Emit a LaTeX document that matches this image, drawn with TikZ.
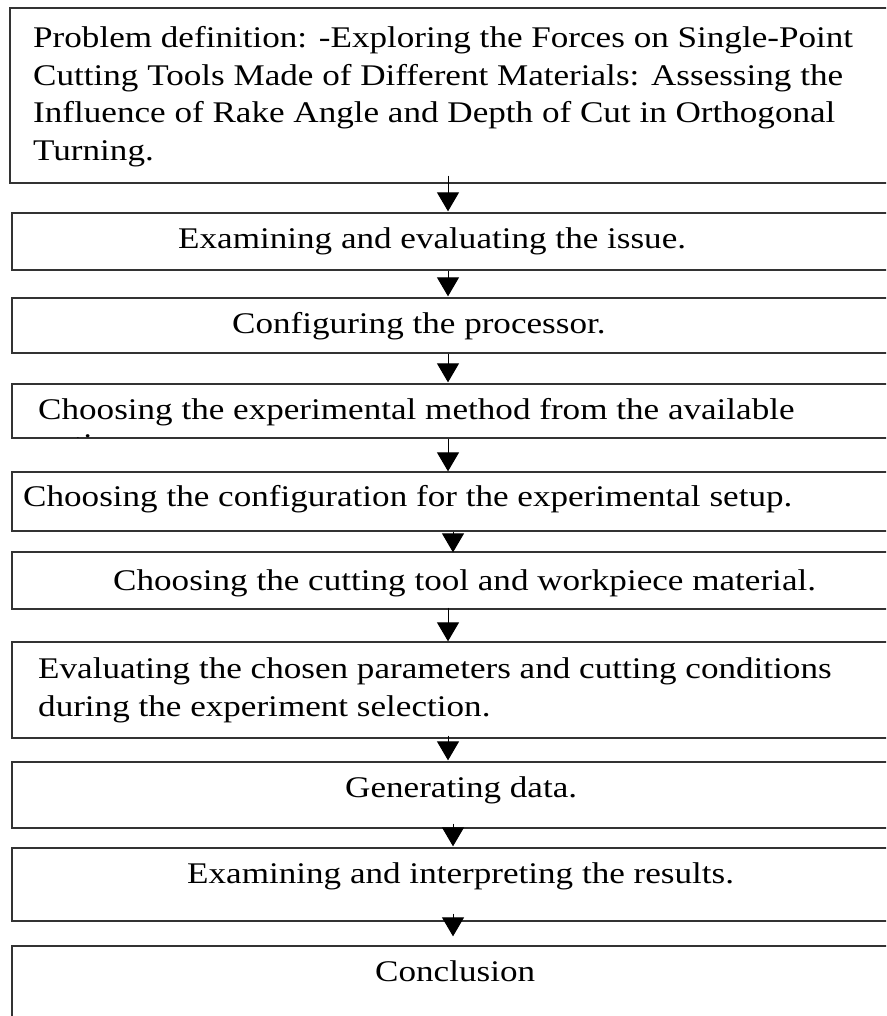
\documentclass[tikz,border=0pt]{standalone}
\usepackage{fontspec}
\setmainfont{Liberation Serif}[FakeStretch=1.17]
\usetikzlibrary{arrows.meta,calc}

\tikzset{
  box/.style={draw=black!80, line width=1.3pt, minimum width=884pt, inner sep=0pt},
  txt/.style={inner sep=0pt, font=\fontsize{30}{37.5}\selectfont, align=left},
  flow/.style={draw=black, line width=1pt, -{Triangle[width=22pt,length=19pt]}}
}

\begin{document}
\begin{tikzpicture}[x=1pt, y=-1pt]
  \useasboundingbox (0,0) rectangle (886,1016);
  \clip (0,0) rectangle (886,1016);
  \fill[white] (0,0) rectangle (886,1016);

  % process boxes (they run past the right edge)
  \node[box, minimum width=886pt, minimum height=175pt] (b1) at (453,95.5) {};
  \node[box, minimum height=57pt] (b2) at (454,241.5) {};
  \node[box, minimum height=55pt] (b3) at (454,325.5) {};
  \node[box, minimum height=54pt] (b4) at (454,411) {};
  \node[box, minimum height=59pt] (b5) at (454,501.5) {};
  \node[box, minimum height=57pt] (b6) at (454,580.5) {};
  \node[box, minimum height=96pt] (b7) at (454,690) {};
  \node[box, minimum height=66pt] (b8) at (454,795) {};
  \node[box, minimum height=73pt] (b9) at (454,884.5) {};
  \node[box, minimum height=94pt] (b10) at (454,993) {};

  % box texts
  \node[txt, anchor=north west] (t1) at (33,26.5)
    {Problem definition: -Exploring the Forces on Single-Point\\
     Cutting Tools Made of Different Materials: Assessing the\\
     Influence of Rake Angle and Depth of Cut in Orthogonal\\
     Turning.};
  \node[txt, anchor=base west] (t2) at (178,248) {Examining and evaluating the issue.};
  \node[txt, anchor=base west] (t3) at (232,333) {Configuring the processor.};
  \begin{scope}
    \clip (12,384.7) rectangle (896,437.3);
    \node[txt, anchor=north west] (t4) at (38,398.5)
      {Choosing the experimental method from the available\\[-3pt]
       options.};
  \end{scope}
  \node[txt, anchor=base west] (t5) at (23,506) {Choosing the configuration for the experimental setup.};
  \node[txt, anchor=base west] (t6) at (113,590) {Choosing the cutting tool and workpiece material.};
  \node[txt, anchor=north west] (t7) at (38,657.5)
    {Evaluating the chosen parameters and cutting conditions\\
     during the experiment selection.};
  \node[txt, anchor=base west] (t8) at (345,797) {Generating data.};
  \node[txt, anchor=base west] (t9) at (187,883) {Examining and interpreting the results.};
  \node[txt, anchor=base west] (t10) at (375,981) {Conclusion};

  % connectors
  \draw[flow] ($(b1.south)+(-5,-8)$) -- ($(b2.north)+(-6,-1)$);
  \draw[flow] ($(b2.south)+(-6,0)$) -- ($(b3.north)+(-6,-1)$);
  \draw[flow] ($(b3.south)+(-6,0)$) -- ($(b4.north)+(-6,-1)$);
  \draw[flow] ($(b4.south)+(-6,0)$) -- ($(b5.north)+(-6,0)$);
  \draw[flow] ($(b5.south)+(-1,0)$) -- ($(b6.north)+(-1,1)$);
  \draw[flow] ($(b6.south)+(-6,-2)$) -- ($(b7.north)+(-6,0)$);
  \draw[flow] ($(b7.south)+(-6,-3)$) -- ($(b8.north)+(-6,-1)$);
  \draw[flow] ($(b8.south)+(-1,-5)$) -- ($(b9.north)+(-1,-1)$);
  \draw[flow] ($(b9.south)+(-1,-8)$) -- ($(b10.north)+(-1,-9)$);
\end{tikzpicture}
\end{document}
